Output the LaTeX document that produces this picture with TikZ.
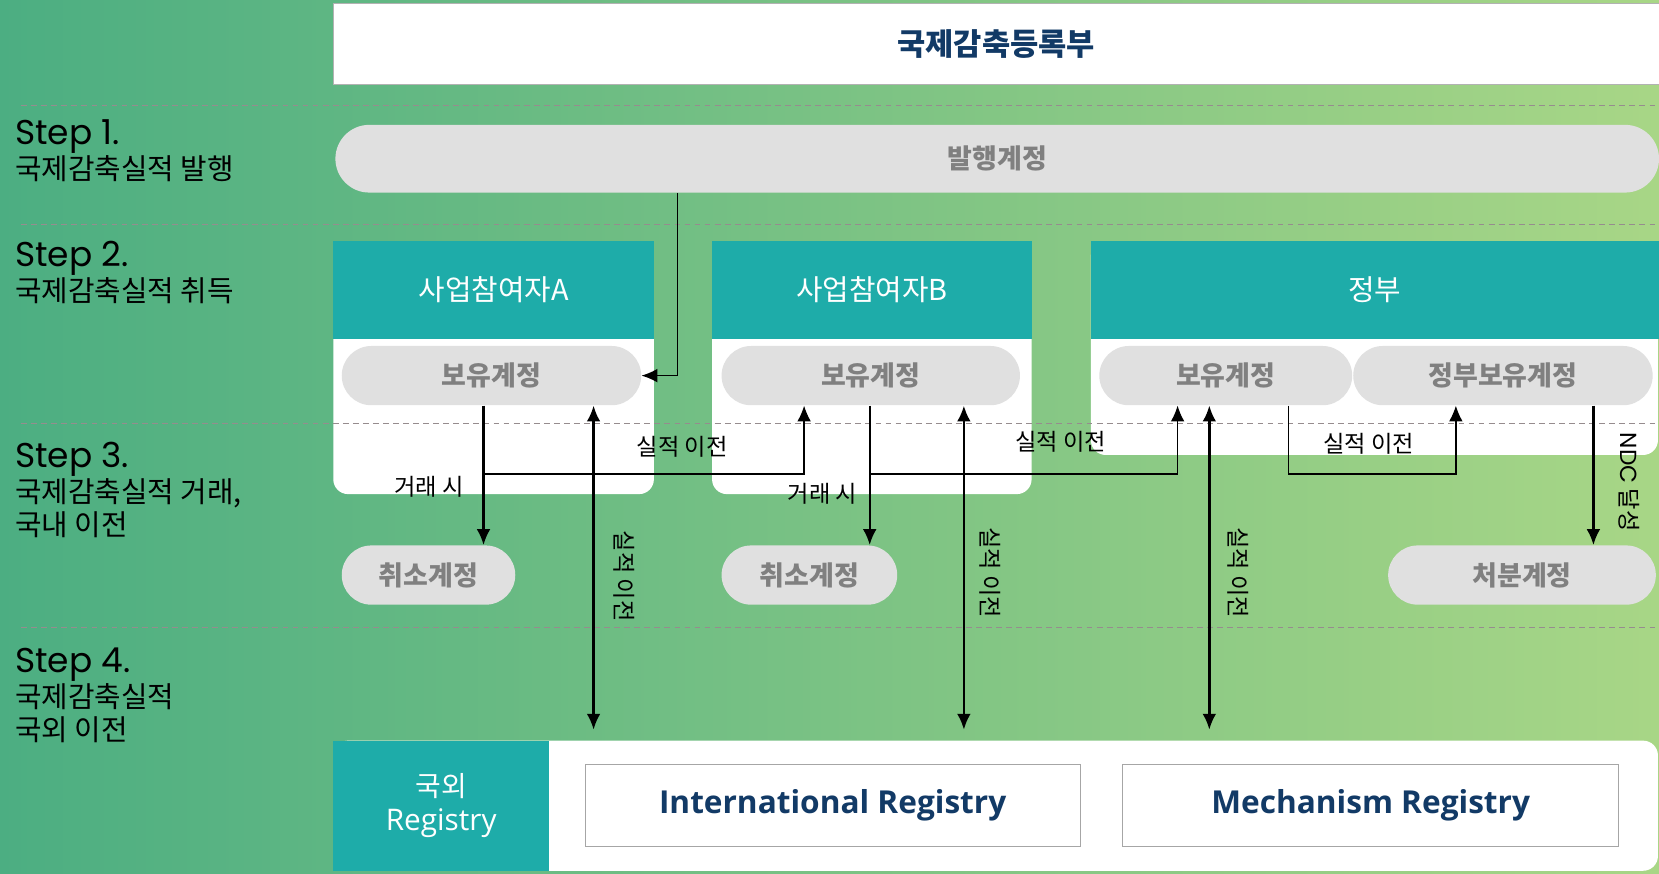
\documentclass[tikz,border=0pt]{standalone}
\usepackage{fontspec}
\setmainfont{Noto Sans CJK KR}
\newfontfamily\stepfont{Poppins}
\newfontfamily\latinfont{Open Sans}
\usetikzlibrary{arrows.meta}
\definecolor{bgleft}{RGB}{76,174,130}
\definecolor{bgright}{RGB}{168,214,134}
\definecolor{hdteal}{RGB}{30,172,169}
\definecolor{pillgray}{RGB}{224,224,224}
\definecolor{pilltext}{RGB}{128,128,128}
\definecolor{navy}{RGB}{18,58,102}
\definecolor{dashgray}{RGB}{150,140,142}

\begin{document}
\begin{tikzpicture}[x=0.2mm, y=-0.2mm,
	header/.style = { fill=hdteal, text=white, minimum height=18.4mm,
			inner sep=0pt, font=\fontsize{15.5}{17}\selectfont },
	acct/.style = { fill=pillgray, text=pilltext, rounded corners=5.6mm,
			minimum height=11.2mm, inner sep=0pt,
			font=\bfseries\fontsize{14.5}{16}\selectfont },
	regbox/.style = { draw=black!35, fill=white, minimum height=15.6mm,
			text=navy, font=\latinfont\bfseries\fontsize{17}{19}\selectfont },
	steplbl/.style = { anchor=north west, align=left, inner sep=0pt,
			font=\fontsize{15.5}{17.6}\selectfont },
	lbl/.style = { font=\fontsize{12.5}{14}\selectfont, inner sep=1pt },
	arr/.style = { -{Latex[length=3mm, width=2.6mm]}, line width=0.7pt },
	darr/.style = { {Latex[length=3mm, width=2.6mm]}-{Latex[length=3mm, width=2.6mm]},
			line width=1.3pt, shorten >=2mm },
	sep/.style = { dashgray, dash pattern=on 1.1mm off 0.8mm, line width=0.5pt }]

  \useasboundingbox (0,0) rectangle (1568,826);
  \clip (0,0) rectangle (1568,826);
  \shade[left color=bgleft, right color=bgright] (0,0) rectangle (1568,826);

  \node[name=reg, draw=black!30, fill=white, minimum width=250.6mm,
	minimum height=15.4mm, text=navy,
	font=\bfseries\fontsize{16.5}{18}\selectfont] at (941.5,41.5) {국제감축등록부};
  \node[name=issue, acct, minimum width=250.2mm, minimum height=12.8mm,
	rounded corners=6.4mm] at (942.5,150) {발행계정};

  \fill[white, rounded corners=2.8mm] (315,228) rectangle (618,467);
  \fill[white, rounded corners=2.8mm] (673,228) rectangle (975,467);
  \fill[white, rounded corners=2.8mm] (1031,228) rectangle (1567,430);
  \node[name=hdA, header, minimum width=60.6mm] at (466.5,274) {사업참여자A};
  \node[name=hdB, header, minimum width=60.4mm] at (824,274) {사업참여자B};
  \node[name=hdG, header, minimum width=107.4mm] at (1299.5,274) {정부};

  \foreach \y in {100,212,400,593}
	\draw[sep] (20,\y) -- (1568,\y);

  \node[name=step1, steplbl] at (14,113)
	{{\stepfont\fontsize{18.5}{17.6}\selectfont Step 1.}\\국제감축실적 발행};
  \node[name=step2, steplbl] at (14,228)
	{{\stepfont\fontsize{18.5}{17.6}\selectfont Step 2.}\\국제감축실적 취득};
  \node[name=step3, steplbl] at (14,418)
	{{\stepfont\fontsize{18.5}{17.6}\selectfont Step 3.}\\국제감축실적 거래,\\국내 이전};
  \node[name=step4, steplbl] at (14,612)
	{{\stepfont\fontsize{18.5}{17.6}\selectfont Step 4.}\\국제감축실적\\국외 이전};

  \node[name=bfA, acct, minimum width=56.6mm] at (464.5,355) {보유계정};
  \node[name=bfB, acct, minimum width=56.4mm] at (823,355) {보유계정};
  \node[name=bfG, acct, minimum width=47.8mm] at (1158.5,355) {보유계정};
  \node[name=bfGG, acct, minimum width=56.6mm] at (1420.5,355) {정부보유계정};
  \node[name=cnA, acct, minimum width=32.8mm] at (405,543.5) {취소계정};
  \node[name=cnB, acct, minimum width=33.2mm] at (765,543.5) {취소계정};
  \node[name=dp, acct, minimum width=50.6mm] at (1438.5,543.5) {처분계정};

  \fill[white, rounded corners=2.8mm] (315,700) rectangle (1567,823);
  \node[name=abroad, fill=hdteal, text=white, minimum width=40.8mm,
	minimum height=24.6mm, inner sep=0pt, align=center,
	font=\fontsize{15}{18.5}\selectfont] at (417,761.5)
	{국외\\{\latinfont\fontsize{16}{18.5}\selectfont Registry}};
  \node[name=ir, regbox, minimum width=93.6mm] at (787,761) {International Registry};
  \node[name=mr, regbox, minimum width=93.8mm] at (1295.5,761) {Mechanism Registry};

  \coordinate (c1) at (640,0);
  \coordinate (dropA) at (457,0);
  \coordinate (riseB) at (760,0);
  \coordinate (xferA) at (561,0);
  \coordinate (dropB) at (822,0);
  \coordinate (riseG) at (1113,0);
  \coordinate (xferB) at (911,0);
  \coordinate (xferG) at (1143,0);
  \coordinate (outG) at (1218,0);
  \coordinate (riseGG) at (1376,0);
  \coordinate (dropGG) at (1506,0);
  \coordinate (rail) at (0,448);

  \draw [arr] (issue.south -| c1) |- (bfA.east);
  \draw [arr, line width=1.3pt] (bfA.south -| dropA) --
	node[lbl, pos=0.58, anchor=east, xshift=-3.2mm] {거래 시} (cnA.north -| dropA);
  \draw [arr] (dropA |- rail) -|
	node[lbl, pos=0.31, above, yshift=2.6mm] {실적 이전} (bfB.south -| riseB);
  \draw [darr] (bfA.south -| xferA) --
	node[lbl, pos=0.51, sloped, above=3.2mm] {실적 이전} (abroad.north -| xferA);

  \draw [arr, line width=1.3pt] (bfB.south -| dropB) --
	node[lbl, pos=0.63, anchor=east, xshift=-1.8mm] {거래 시} (cnB.north -| dropB);
  \draw [arr] (dropB |- rail) -|
	node[lbl, pos=0.31, above, yshift=3.6mm] {실적 이전} (bfG.south -| riseG);
  \draw [darr] (bfB.south -| xferB) --
	node[lbl, pos=0.5, sloped, above=2.4mm] {실적 이전} (abroad.north -| xferB);

  \draw [darr] (bfG.south -| xferG) --
	node[lbl, pos=0.5, sloped, above=2.8mm] {실적 이전} (abroad.north -| xferG);
  \draw [arr] (bfG.south -| outG) -- (outG |- rail) -|
	node[lbl, pos=0.24, above, yshift=3.2mm] {실적 이전} (bfGG.south -| riseGG);
  \draw [arr, line width=1.3pt] (bfGG.south -| dropGG) --
	node[lbl, pos=0.55, sloped, above=4.2mm] {{\stepfont NDC} 달성} (dp.north -| dropGG);
\end{tikzpicture}
\end{document}
